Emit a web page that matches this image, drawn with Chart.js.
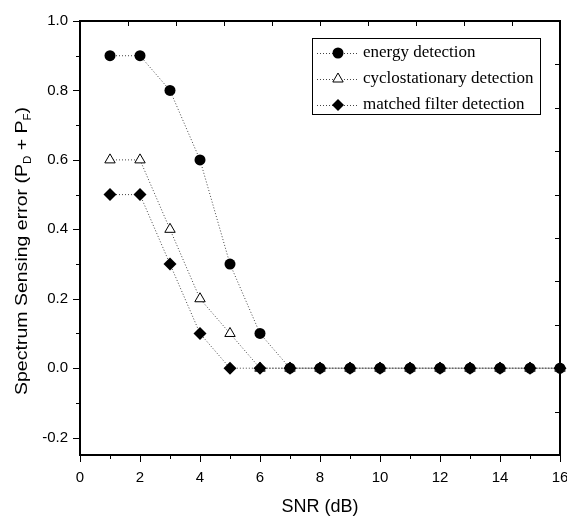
<!DOCTYPE html>
<html>
<head>
<meta charset="utf-8">
<script src="https://cdn.jsdelivr.net/npm/chart.js@4.4.1/dist/chart.umd.min.js"></script>
<style>
  html, body { margin: 0; padding: 0; background: #fff; overflow: hidden; }
  #wrap { width: 590px; height: 518px; }
</style>
</head>
<body>
<div id="wrap"><canvas id="c" width="590" height="518"></canvas></div>
<script>
const snr = [1, 2, 3, 4, 5, 6, 7, 8, 9, 10, 11, 12, 13, 14, 15, 16];
const energy = [0.9, 0.9, 0.8, 0.6, 0.3, 0.1, 0, 0, 0, 0, 0, 0, 0, 0, 0, 0];
const cyclo = [0.6, 0.6, 0.4, 0.2, 0.1, 0, 0, 0, 0, 0, 0, 0, 0, 0, 0, 0];
const matched = [0.5, 0.5, 0.3, 0.1, 0, 0, 0, 0, 0, 0, 0, 0, 0, 0, 0, 0];
const seriesNames = ['energy detection', 'cyclostationary detection', 'matched filter detection'];
const xTicks = [0, 2, 4, 6, 8, 10, 12, 14, 16];
const yTicks = [-0.2, 0.0, 0.2, 0.4, 0.6, 0.8, 1.0];
const xMinor = [1, 3, 5, 7, 9, 11, 13, 15];
const yMinor = [-0.1, 0.1, 0.3, 0.5, 0.7, 0.9];

const pts = arr => snr.map((x, i) => ({ x: x, y: arr[i] }));
const lineStyle = { borderColor: '#444', borderWidth: 1, borderDash: [1, 2], showLine: true, tension: 0, clip: false };

function drawMarker(ctx, style, x, y) {
  ctx.save();
  ctx.beginPath();
  if (style === 'circle') {
    ctx.arc(x, y, 5.5, 0, Math.PI * 2);
    ctx.fillStyle = '#000'; ctx.fill();
  } else if (style === 'triangle') {
    const r = 6;
    ctx.moveTo(x, y - r);
    ctx.lineTo(x + r * Math.sin(2 * Math.PI / 3), y - r * Math.cos(2 * Math.PI / 3));
    ctx.lineTo(x + r * Math.sin(4 * Math.PI / 3), y - r * Math.cos(4 * Math.PI / 3));
    ctx.closePath();
    ctx.fillStyle = '#fff'; ctx.fill();
    ctx.strokeStyle = '#000'; ctx.lineWidth = 1; ctx.stroke();
  } else {
    const r = 6;
    ctx.moveTo(x - r, y); ctx.lineTo(x, y - r); ctx.lineTo(x + r, y); ctx.lineTo(x, y + r);
    ctx.closePath();
    ctx.fillStyle = '#000'; ctx.fill();
  }
  ctx.restore();
}

const framePlugin = {
  id: 'frame',
  beforeDatasetsDraw(chart) {
    const ctx = chart.ctx, a = chart.chartArea;
    const xs = chart.scales.x, ys = chart.scales.y;
    ctx.save();
    ctx.strokeStyle = '#000';
    ctx.lineWidth = 1;
    xTicks.forEach(v => { const p = Math.round(xs.getPixelForValue(v)) + 0.5; ctx.beginPath(); ctx.moveTo(p, a.bottom); ctx.lineTo(p, a.bottom + 7); ctx.stroke(); });
    xMinor.forEach(v => { const p = Math.round(xs.getPixelForValue(v)) + 0.5; ctx.beginPath(); ctx.moveTo(p, a.bottom); ctx.lineTo(p, a.bottom + 4); ctx.stroke(); });
    yTicks.forEach(v => { const p = Math.round(ys.getPixelForValue(v)) + 0.5; ctx.beginPath(); ctx.moveTo(a.left, p); ctx.lineTo(a.left - 7, p); ctx.stroke(); });
    yMinor.forEach(v => { const p = Math.round(ys.getPixelForValue(v)) + 0.5; ctx.beginPath(); ctx.moveTo(a.left, p); ctx.lineTo(a.left - 4, p); ctx.stroke(); });
    for (let i = 1; i < 10; i++) { const p = Math.round(xs.getPixelForValue(xs.min + i * (xs.max - xs.min) / 10)) + 0.5; ctx.beginPath(); ctx.moveTo(p, a.top); ctx.lineTo(p, a.top + 5); ctx.stroke(); }
    for (let i = 1; i < 10; i++) { const p = Math.round(ys.getPixelForValue(ys.min + i * (ys.max - ys.min) / 10)) + 0.5; ctx.beginPath(); ctx.moveTo(a.right, p); ctx.lineTo(a.right - 5, p); ctx.stroke(); }
    ctx.lineWidth = 2;
    ctx.strokeRect(a.left, a.top, a.right - a.left, a.bottom - a.top);
    ctx.restore();
  },
  afterDraw(chart) {
    const ctx = chart.ctx;
    ctx.save();
    // Y title with subscripts, stretched along its length like the reference
    const big = '17px "Liberation Sans", Arial, sans-serif';
    const small = '10px "Liberation Sans", Arial, sans-serif';
    const parts = [['Spectrum Sensing error (P', big, 0], ['D', small, 6], [' + P', big, 0], ['F', small, 6], [')', big, 0]];
    let total = 0;
    parts.forEach(p => { ctx.font = p[1]; total += ctx.measureText(p[0]).width; });
    const targetLen = 288;
    ctx.translate(22, 251);
    ctx.rotate(-Math.PI / 2);
    ctx.scale(targetLen / total, 1);
    ctx.fillStyle = '#000';
    ctx.textBaseline = 'middle';
    let cx = -total / 2;
    parts.forEach(p => { ctx.font = p[1]; ctx.fillText(p[0], cx, p[2]); cx += ctx.measureText(p[0]).width; });
    ctx.restore();

    // legend
    ctx.save();
    const lx = 312, ly = 38, lw = 228, lh = 76;
    ctx.fillStyle = '#fff';
    ctx.fillRect(lx, ly, lw, lh);
    ctx.strokeStyle = '#000'; ctx.lineWidth = 1;
    ctx.strokeRect(lx + 0.5, ly + 0.5, lw, lh);
    const styles = ['circle', 'triangle', 'rectRot'];
    ctx.font = '17px "Liberation Serif", "Times New Roman", serif';
    ctx.textBaseline = 'middle';
    seriesNames.forEach((name, i) => {
      const y = 53 + i * 26;
      ctx.save();
      ctx.strokeStyle = '#444'; ctx.lineWidth = 1; ctx.setLineDash([1, 2]);
      ctx.beginPath(); ctx.moveTo(317, y + 0.5); ctx.lineTo(357, y + 0.5); ctx.stroke();
      ctx.restore();
      drawMarker(ctx, styles[i], 338, y);
      ctx.fillStyle = '#000';
      ctx.fillText(name, 363, y);
    });
    ctx.restore();
  }
};

new Chart(document.getElementById('c'), {
  type: 'scatter',
  data: {
    datasets: [
      Object.assign({ label: seriesNames[0], data: pts(energy), pointStyle: 'circle', pointRadius: 5.5, pointHoverRadius: 5.5, pointBackgroundColor: '#000', pointBorderColor: '#000', pointBorderWidth: 0, order: 2 }, lineStyle),
      Object.assign({ label: seriesNames[1], data: pts(cyclo), pointStyle: 'triangle', pointRadius: 6, pointHoverRadius: 6, pointBackgroundColor: '#fff', pointBorderColor: '#000', pointBorderWidth: 1, order: 1 }, lineStyle),
      Object.assign({ label: seriesNames[2], data: pts(matched), pointStyle: 'rectRot', pointRadius: 6.5, pointHoverRadius: 6.5, pointBackgroundColor: '#000', pointBorderColor: '#000', pointBorderWidth: 0, order: 0 }, lineStyle)
    ]
  },
  options: {
    responsive: false,
    animation: false,
    events: [],
    layout: { padding: { top: 18, right: 30, left: 0, bottom: 0 } },
    plugins: { legend: { display: false }, tooltip: { enabled: false } },
    scales: {
      x: {
        type: 'linear', min: 0, max: 16,
        afterBuildTicks: s => { s.ticks = xTicks.map(v => ({ value: v })); },
        afterFit: s => { s.height = 63; },
        ticks: { color: '#000', font: { family: '"Liberation Sans", Arial, sans-serif', size: 15 }, padding: 14, maxRotation: 0, autoSkip: false, callback: v => String(v) },
        grid: { display: true, drawOnChartArea: false, drawTicks: false },
        border: { display: false },
        title: { display: true, text: 'SNR (dB)', color: '#000', font: { family: '"Liberation Sans", Arial, sans-serif', size: 18 }, padding: { top: 7, bottom: 0 } }
      },
      y: {
        type: 'linear', min: -0.25, max: 1.0,
        afterBuildTicks: s => { s.ticks = yTicks.map(v => ({ value: v })); },
        afterFit: s => { s.width = 80; },
        ticks: { color: '#000', font: { family: '"Liberation Sans", Arial, sans-serif', size: 15 }, padding: 12, autoSkip: false, callback: v => Number(v).toFixed(1) },
        grid: { display: true, drawOnChartArea: false, drawTicks: false },
        border: { display: false }
      }
    }
  },
  plugins: [framePlugin]
});
</script>
</body>
</html>
